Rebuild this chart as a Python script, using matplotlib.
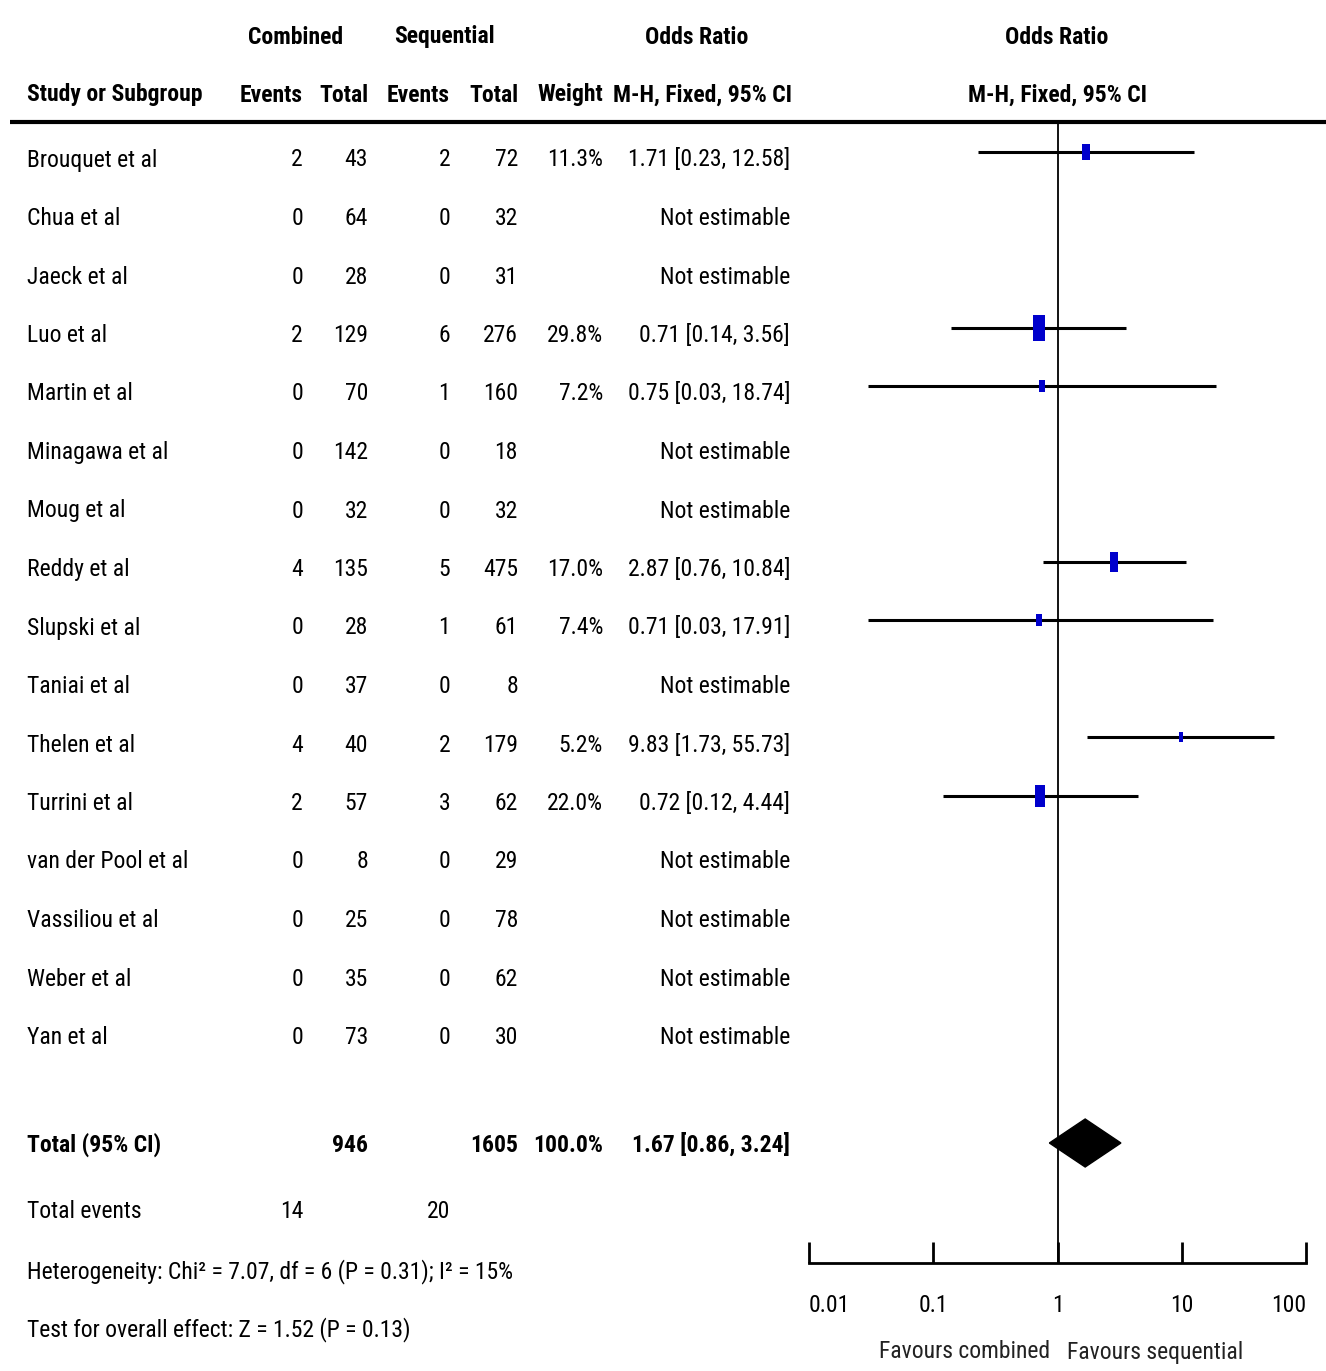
import numpy as np
import matplotlib.pyplot as plt
from matplotlib import font_manager

# Données de la méta-analyse
studies = ["Brouquet et al", "Chua et al", "Jaeck et al", "Luo et al", "Martin et al",
           "Minagawa et al", "Moug et al", "Reddy et al", "Slupski et al", "Taniai et al",
           "Thelen et al", "Turrini et al", "van der Pool et al", "Vassiliou et al",
           "Weber et al", "Yan et al"]
comb_events = [2, 0, 0, 2, 0, 0, 0, 4, 0, 0, 4, 2, 0, 0, 0, 0]
comb_total = [43, 64, 28, 129, 70, 142, 32, 135, 28, 37, 40, 57, 8, 25, 35, 73]
seq_events = [2, 0, 0, 6, 1, 0, 0, 5, 1, 0, 2, 3, 0, 0, 0, 0]
seq_total = [72, 32, 31, 276, 160, 18, 32, 475, 61, 8, 179, 62, 29, 78, 62, 30]
weights = [11.3, None, None, 29.8, 7.2, None, None, 17.0, 7.4, None, 5.2, 22.0, None, None, None, None]
odds = [1.71, None, None, 0.71, 0.75, None, None, 2.87, 0.71, None, 9.83, 0.72, None, None, None, None]
ci_low = [0.23, None, None, 0.14, 0.03, None, None, 0.76, 0.03, None, 1.73, 0.12, None, None, None, None]
ci_high = [12.58, None, None, 3.56, 18.74, None, None, 10.84, 17.91, None, 55.73, 4.44, None, None, None, None]

total_or, total_low, total_high = 1.67, 0.86, 3.24
total_comb, total_seq = 946, 1605
events_comb, events_seq = 14, 20
ticks = [0.01, 0.1, 1, 10, 100]

# Police étroite si disponible
fl = font_manager.fontManager.ttflist
names = {f.name for f in fl}
fam, stretch = 'DejaVu Sans', 'normal'
for n in ['Liberation Sans Narrow', 'Arial Narrow', 'Roboto Condensed', 'Open Sans Condensed',
          'Noto Sans Condensed', 'DejaVu Sans Condensed']:
    if n in names:
        fam = n
        break
else:
    for f in fl:
        if f.stretch in ('condensed', 'semi-condensed', 'extra-condensed') and 'Mono' not in f.name \
                and 'Serif' not in f.name:
            fam, stretch = f.name, f.stretch
            break
plt.rcParams['font.family'] = [fam, 'DejaVu Sans']
plt.rcParams['font.stretch'] = stretch

W, H = 1326, 1371
fig = plt.figure(figsize=(W / 100, H / 100), dpi=100)
ax = fig.add_axes([0, 0, 1, 1])
ax.set_xlim(0, W)
ax.set_ylim(H, 0)
ax.axis('off')

# taille ajustée pour que "Brouquet et al" fasse ~130 px de large
r = fig.canvas.get_renderer()
t = ax.text(0, 0, studies[0], fontsize=20)
w = t.get_window_extent(r).width
t.remove()
fs = 20 * 130 / w

# En-têtes
hy1, hy2 = 37, 95
hb = 'bold'
for txt, x in [("Combined", 296), ("Sequential", 444), ("Odds Ratio", 697), ("Odds Ratio", 1057)]:
    ax.text(x, hy1, txt, ha='center', va='center', fontsize=fs, fontweight=hb)
ax.text(27, hy2, "Study or Subgroup", ha='left', va='center', fontsize=fs, fontweight=hb)
for txt, x in [("Events", 303), ("Total", 368), ("Events", 450), ("Total", 518),
               ("Weight", 603), ("M-H, Fixed, 95% CI", 792)]:
    ax.text(x, hy2, txt, ha='right', va='center', fontsize=fs, fontweight=hb)
ax.text(1057, hy2, "M-H, Fixed, 95% CI", ha='center', va='center', fontsize=fs, fontweight=hb)
ax.plot([10, W], [122, 122], color='black', lw=3, solid_capstyle='butt')

# Lignes des études
row_y = [160 + i * 58.5 for i in range(len(studies))]
for i, s in enumerate(studies):
    y = row_y[i]
    ax.text(27, y, s, ha='left', va='center', fontsize=fs)
    ax.text(303, y, str(comb_events[i]), ha='right', va='center', fontsize=fs)
    ax.text(368, y, str(comb_total[i]), ha='right', va='center', fontsize=fs)
    ax.text(450, y, str(seq_events[i]), ha='right', va='center', fontsize=fs)
    ax.text(518, y, str(seq_total[i]), ha='right', va='center', fontsize=fs)
    if weights[i] is not None:
        ax.text(603, y, f"{weights[i]:.1f}%", ha='right', va='center', fontsize=fs)
        ax.text(790, y, f"{odds[i]:.2f} [{ci_low[i]:.2f}, {ci_high[i]:.2f}]",
                ha='right', va='center', fontsize=fs)
    else:
        ax.text(790, y, "Not estimable", ha='right', va='center', fontsize=fs)

# Total
ty = 1145
ax.text(27, ty, "Total (95% CI)", ha='left', va='center', fontsize=fs, fontweight='bold')
ax.text(368, ty, str(total_comb), ha='right', va='center', fontsize=fs, fontweight='bold')
ax.text(518, ty, str(total_seq), ha='right', va='center', fontsize=fs, fontweight='bold')
ax.text(603, ty, "100.0%", ha='right', va='center', fontsize=fs, fontweight='bold')
ax.text(790, ty, f"{total_or:.2f} [{total_low:.2f}, {total_high:.2f}]", ha='right', va='center',
        fontsize=fs, fontweight='bold')
ax.text(27, 1212, "Total events", ha='left', va='center', fontsize=fs)
ax.text(303, 1212, str(events_comb), ha='right', va='center', fontsize=fs)
ax.text(450, 1212, str(events_seq), ha='right', va='center', fontsize=fs)
ax.text(27, 1272, "Heterogeneity: Chi² = 7.07, df = 6 (P = 0.31); I² = 15%", ha='left', va='center', fontsize=fs)
ax.text(27, 1330, "Test for overall effect: Z = 1.52 (P = 0.13)", ha='left', va='center', fontsize=fs)

# Graphique forest
fx0, fx1 = 809, 1306
fa = fig.add_axes([fx0 / W, 0, (fx1 - fx0) / W, 1])
fa.set_xscale('log')
fa.set_xlim(ticks[0], ticks[-1])
fa.set_ylim(H, 0)
fa.patch.set_alpha(0)
for sp in ['top', 'left', 'right']:
    fa.spines[sp].set_visible(False)
fa.spines['bottom'].set_position(('data', 1263))
fa.spines['bottom'].set_linewidth(2)
fa.set_yticks([])
fa.set_xticks(ticks)
fa.minorticks_off()
fa.tick_params(axis='x', direction='in', length=15, width=2, pad=22, labelsize=fs)
fa.set_xticklabels(["0.01", "0.1", "1", "10", "100"])
labs = fa.get_xticklabels()
labs[0].set_ha('left')
labs[-1].set_ha('right')

fa.vlines(1, 122, 1263, color='black', lw=1.3)

rect = [(-0.46, -1), (0.46, -1), (0.46, 1), (-0.46, 1), (-0.46, -1)]
off = -8  # marques un peu au-dessus du centre du texte
for i in range(len(studies)):
    if odds[i] is None:
        continue
    y = row_y[i] + off
    fa.plot([ci_low[i], ci_high[i]], [y, y], color='black', lw=2.2, solid_capstyle='butt')
    ms = 3.4 * np.sqrt(weights[i])
    fa.plot(odds[i], y, marker=rect, markersize=ms, color='#0000CC', markeredgewidth=0)

dh = 24
fa.fill([total_low, total_or, total_high, total_or], [ty - 2, ty - 2 - dh, ty - 2, ty - 2 + dh], color='black')

fa.text(1050, 1352, "Favours combined", transform=ax.transData, ha='right', va='center', fontsize=fs, color='#222222')
fa.text(1067, 1352, "Favours sequential", transform=ax.transData, ha='left', va='center', fontsize=fs, color='#222222')

fig.savefig("out.png", dpi=100)
